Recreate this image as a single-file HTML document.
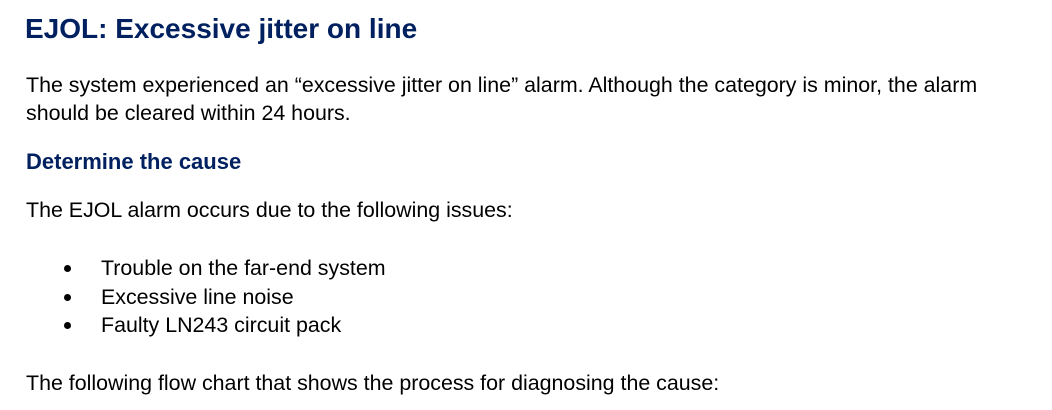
<!DOCTYPE html>
<html><head><meta charset="utf-8"><style>
body{margin:0;width:1052px;height:410px;background:#fff;position:relative;overflow:hidden;font-family:"Liberation Sans",Arial,sans-serif;color:#000}
.l{position:absolute;left:26px;white-space:nowrap;font-size:21.4px;line-height:20px}
h1{position:absolute;left:25px;top:13px;margin:0;font-size:28px;line-height:32px;color:#002060;font-weight:bold;white-space:nowrap}
h2{position:absolute;left:26px;top:150px;margin:0;font-size:22px;line-height:24px;color:#002060;font-weight:bold;white-space:nowrap}
.b{position:absolute;left:64px;width:7px;height:7px;border-radius:50%;background:#000}
</style></head><body>
<h1>EJOL: Excessive jitter on line</h1>
<div class="l" style="top:75px">The system experienced an “excessive jitter on line” alarm. Although the category is minor, the alarm</div>
<div class="l" style="top:103px">should be cleared within 24 hours.</div>
<h2>Determine the cause</h2>
<div class="l" style="top:200px">The EJOL alarm occurs due to the following issues:</div>
<div class="b" style="top:265px"></div><div class="l" style="left:101px;top:258px">Trouble on the far-end system</div>
<div class="b" style="top:294px"></div><div class="l" style="left:101px;top:287px">Excessive line noise</div>
<div class="b" style="top:322px"></div><div class="l" style="left:101px;top:315px">Faulty LN243 circuit pack</div>
<div class="l" style="top:373px">The following flow chart that shows the process for diagnosing the cause:</div>
</body></html>
